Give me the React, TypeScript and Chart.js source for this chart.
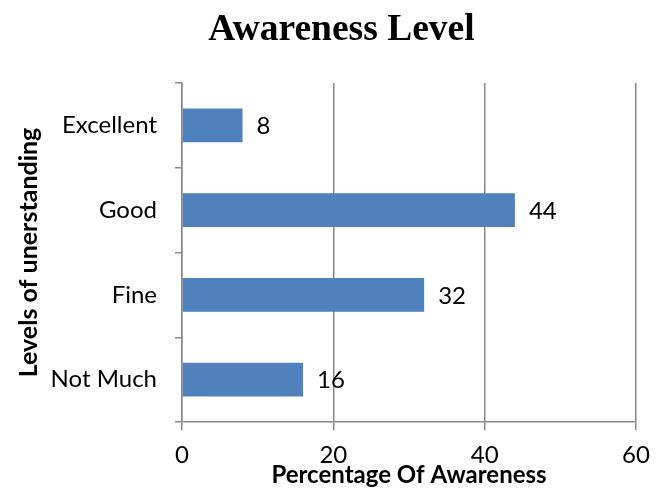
import React, { useEffect, useRef } from "react";
import { Chart, registerables } from "chart.js";

Chart.register(...registerables);

const titleText = "Awareness Level";
const categories = ["Excellent", "Good", "Fine", "Not Much"];
const values = [8, 44, 32, 16];
const xTicks = [0, 20, 40, 60];

const TICK_FONT = "Lato";
const GRID = "#8a8a8a";

const valueLabels = {
  id: "valueLabels",
  afterDatasetsDraw(chart: any) {
    const ctx = chart.ctx;
    const meta = chart.getDatasetMeta(0);
    ctx.save();
    ctx.font = `24px ${TICK_FONT}`;
    ctx.fillStyle = "#000";
    ctx.textAlign = "left";
    ctx.textBaseline = "middle";
    meta.data.forEach((el: any, i: number) => {
      ctx.fillText(String(values[i]), el.x + 14, el.y + 1);
    });
    ctx.restore();
  },
};

const chartTitle = {
  id: "chartTitle",
  afterDraw(chart: any) {
    const ctx = chart.ctx;
    ctx.save();
    ctx.font = `bold 37.5px "Liberation Serif"`;
    ctx.fillStyle = "#000";
    ctx.textAlign = "center";
    ctx.textBaseline = "alphabetic";
    ctx.fillText(titleText, 341.5, 39.5);
    ctx.restore();
  },
};

export default function App() {
  const ref = useRef<HTMLCanvasElement | null>(null);
  useEffect(() => {
    let chart: Chart | null = null;
    let cancelled = false;
    const make = () => {
      if (cancelled || !ref.current) return;
      chart = new Chart(ref.current, {
        type: "bar",
        data: {
          labels: categories,
          datasets: [
            {
              data: values,
              backgroundColor: "#4F81BD",
              borderWidth: 0,
              barPercentage: 0.5,
              categoryPercentage: 0.8,
            },
          ],
        },
        options: {
          indexAxis: "y",
          responsive: false,
          animation: false,
          layout: { padding: { left: 0, right: 29, top: 83, bottom: 0 } },
          plugins: {
            legend: { display: false },
            tooltip: { enabled: false },
            title: { display: false },
          },
          scales: {
            x: {
              min: 0,
              max: 60,
              afterBuildTicks: (scale: any) => {
                scale.ticks = xTicks.map((v) => ({ value: v }));
              },
              afterFit: (scale: any) => {
                scale.height = 67;
              },
              grid: {
                color: GRID,
                lineWidth: 1.5,
                tickLength: 8,
                drawOnChartArea: true,
              },
              border: { display: true, color: GRID, width: 1.5 },
              ticks: {
                color: "#000",
                padding: 11,
                font: { family: TICK_FONT, size: 24 },
              },
              title: {
                display: true,
                text: "Percentage Of Awareness",
                color: "#000",
                font: { family: TICK_FONT, size: 24, weight: "bold", lineHeight: 1.1 },
                padding: { top: 0, bottom: 1 },
              },
            },
            y: {
              afterFit: (scale: any) => {
                scale.width = 182;
              },
              grid: {
                offset: true,
                color: GRID,
                lineWidth: 1.5,
                tickLength: 7,
                drawOnChartArea: false,
              },
              border: { display: true, color: GRID, width: 1.5 },
              ticks: {
                color: "#000",
                padding: 18,
                font: { family: TICK_FONT, size: 24 },
              },
              title: {
                display: true,
                text: "Levels of unerstanding",
                color: "#000",
                font: { family: TICK_FONT, size: 25, weight: "bold", lineHeight: 1.1 },
                padding: { top: 15, bottom: 0 },
              },
            },
          },
        },
        plugins: [valueLabels, chartTitle],
      });
    };
    const fonts: any = (document as any).fonts;
    if (fonts && fonts.load) {
      Promise.all([
        fonts.load(`24px ${TICK_FONT}`),
        fonts.load(`bold 24px ${TICK_FONT}`),
        fonts.load(`bold 38px "Liberation Serif"`),
      ])
        .catch(() => {})
        .then(make);
    } else {
      make();
    }
    return () => {
      cancelled = true;
      if (chart) chart.destroy();
    };
  }, []);
  return (
    <div style={{ position: "absolute", left: 0, top: 0, width: 665, height: 489, background: "#fff" }}>
      <canvas ref={ref} width={665} height={489} />
    </div>
  );
}
